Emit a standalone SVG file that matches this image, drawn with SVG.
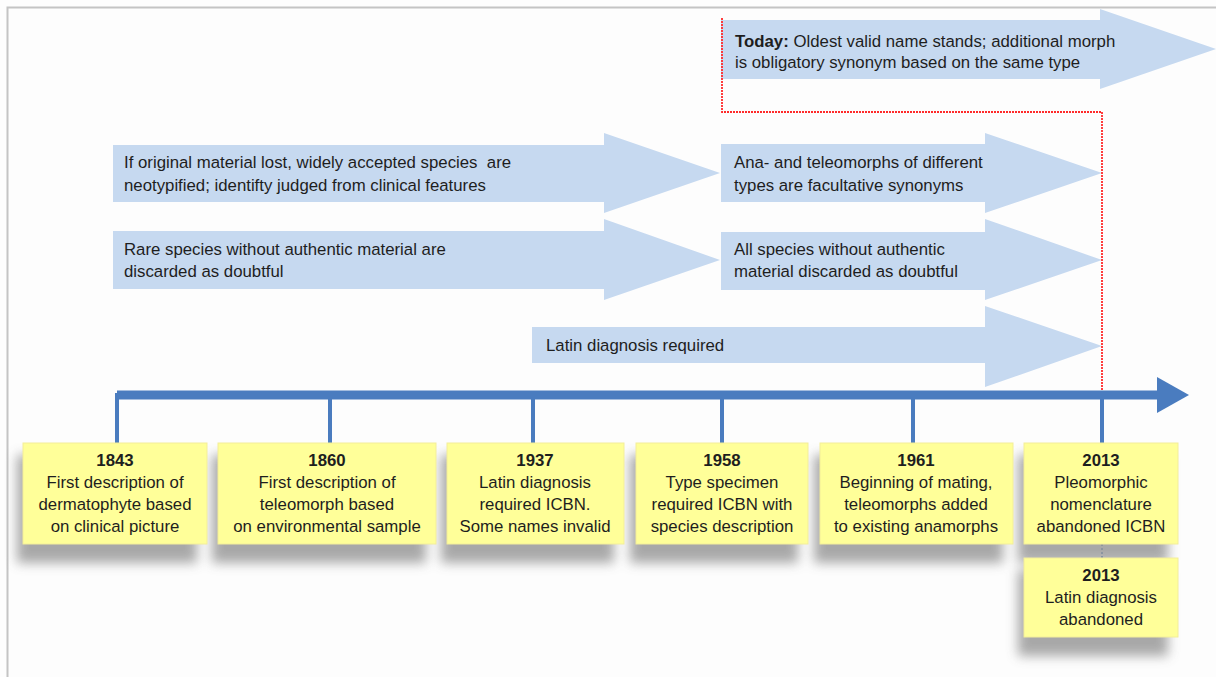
<svg xmlns="http://www.w3.org/2000/svg" width="1216" height="677" viewBox="0 0 1216 677">
<style>
.arr{fill:#c6d9f0}
.t{font-family:"Liberation Sans",Arial,sans-serif;font-size:16.8px;fill:#1e1e1e}
.bt{font-family:"Liberation Sans",Arial,sans-serif;font-size:16.8px;fill:#1e1e1e;text-anchor:middle}
.yr{font-weight:bold}
.box{fill:#ffff99;stroke:#f3ee9a;stroke-width:1}
.tick{stroke:#4a7cbf;stroke-width:4;fill:none}
</style>
<defs>
<filter id="sh" x="-20%" y="-20%" width="140%" height="160%">
<feGaussianBlur stdDeviation="6"/>
</filter>
</defs>
<rect width="1216" height="677" fill="#fdfdfd"/>
<path d="M7.5 677 V7.5 H1216" fill="none" stroke="#c4c4c4" stroke-width="2"/>

<g id="arrows">
<g id="a-today"><polygon class="arr" points="721,20 1100,20 1100,9 1216,49 1100,89 1100,79 721,79"/>
<text class="t" x="735" y="47"><tspan font-weight="bold">Today:</tspan> Oldest valid name stands; additional morph</text>
<text class="t" x="735" y="68">is obligatory synonym based on the same type</text></g>
<g id="a-neo"><polygon class="arr" points="113,145 604,145 604,133 720,173 604,213 604,202 113,202"/>
<text class="t" x="124" y="168" xml:space="preserve">If original material lost, widely accepted species  are</text>
<text class="t" x="124" y="191">neotypified; identifty judged from clinical features</text></g>
<g id="a-rare"><polygon class="arr" points="113,231 604,231 604,219 720,260 604,300 604,289 113,289"/>
<text class="t" x="124" y="255">Rare species without authentic material are</text>
<text class="t" x="124" y="277">discarded as doubtful</text></g>
<g id="a-ana"><polygon class="arr" points="721,144 985,144 985,133 1102,173 985,213 985,202 721,202"/>
<text class="t" x="734" y="168">Ana- and teleomorphs of different</text>
<text class="t" x="734" y="191">types are facultative synonyms</text></g>
<g id="a-all"><polygon class="arr" points="721,232 985,232 985,219 1102,260 985,300 985,290 721,290"/>
<text class="t" x="734" y="255">All species without authentic</text>
<text class="t" x="734" y="277">material discarded as doubtful</text></g>
<g id="a-latin"><polygon class="arr" points="532,327 985,327 985,306 1102,346 985,387 985,363 532,363"/>
<text class="t" x="546" y="351">Latin diagnosis required</text></g>
</g>

<g id="connectors">
<path d="M722 18 V112 H1102 V390" fill="none" stroke="#ff2a2a" stroke-width="1.8" stroke-dasharray="2,1"/>
<line x1="117" y1="395" x2="1162" y2="395" stroke="#4a7cbf" stroke-width="9"/>
<polygon points="1157,377 1189,395 1157,413" fill="#4a7cbf"/>
<path class="tick" d="M117 393 V443 M330 395 V443 M533 395 V443 M722 395 V443 M913 395 V443 M1102 395 V443"/>
<line x1="1102" y1="544" x2="1102" y2="558" stroke="#4a7cbf" stroke-width="2" stroke-dasharray="2,2"/>
</g>

<g id="shadows" filter="url(#sh)" fill="#9a9a9a" opacity="0.85">
<rect x="17" y="455" width="180" height="108"/>
<rect x="212" y="455" width="214" height="108"/>
<rect x="441" y="455" width="173" height="108"/>
<rect x="630" y="455" width="168" height="108"/>
<rect x="814" y="455" width="189" height="108"/>
<rect x="1018" y="455" width="150" height="108"/>
<rect x="1018" y="570" width="150" height="86"/>
</g>

<g id="n1843"><rect class="box" x="23" y="443" width="184" height="101"/>
<text class="bt" x="115" y="466"><tspan class="yr">1843</tspan><tspan x="115" dy="22">First description of</tspan><tspan x="115" dy="22">dermatophyte based</tspan><tspan x="115" dy="22">on clinical picture</tspan></text></g>
<g id="n1860"><rect class="box" x="218" y="443" width="218" height="101"/>
<text class="bt" x="327" y="466"><tspan class="yr">1860</tspan><tspan x="327" dy="22">First description of</tspan><tspan x="327" dy="22">teleomorph based</tspan><tspan x="327" dy="22">on environmental sample</tspan></text></g>
<g id="n1937"><rect class="box" x="447" y="443" width="177" height="101"/>
<text class="bt" x="535" y="466"><tspan class="yr">1937</tspan><tspan x="535" dy="22">Latin diagnosis</tspan><tspan x="535" dy="22">required ICBN.</tspan><tspan x="535" dy="22">Some names invalid</tspan></text></g>
<g id="n1958"><rect class="box" x="636" y="443" width="172" height="101"/>
<text class="bt" x="722" y="466"><tspan class="yr">1958</tspan><tspan x="722" dy="22">Type specimen</tspan><tspan x="722" dy="22">required ICBN with</tspan><tspan x="722" dy="22">species description</tspan></text></g>
<g id="n1961"><rect class="box" x="820" y="443" width="193" height="101"/>
<text class="bt" x="916" y="466"><tspan class="yr">1961</tspan><tspan x="916" dy="22">Beginning of mating,</tspan><tspan x="916" dy="22">teleomorphs added</tspan><tspan x="916" dy="22">to existing anamorphs</tspan></text></g>
<g id="n2013a"><rect class="box" x="1024" y="443" width="154" height="101"/>
<text class="bt" x="1101" y="466"><tspan class="yr">2013</tspan><tspan x="1101" dy="22">Pleomorphic</tspan><tspan x="1101" dy="22">nomenclature</tspan><tspan x="1101" dy="22">abandoned ICBN</tspan></text></g>
<g id="n2013b"><rect class="box" x="1024" y="558" width="154" height="79"/>
<text class="bt" x="1101" y="581"><tspan class="yr">2013</tspan><tspan x="1101" dy="22">Latin diagnosis</tspan><tspan x="1101" dy="22">abandoned</tspan></text></g>
</svg>
